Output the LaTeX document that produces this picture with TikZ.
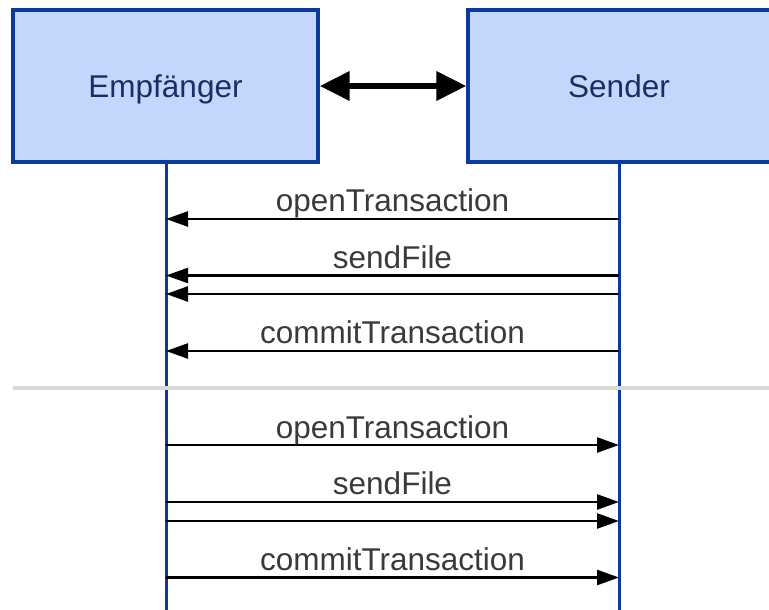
\documentclass[tikz,border=0pt]{standalone}
\usepackage{fontspec}
\setmainfont{Liberation Sans}
\usetikzlibrary{arrows.meta}
\definecolor{boxfill}{HTML}{C5D6FC}
\definecolor{boxline}{HTML}{0B3A9E}
\definecolor{boxtext}{HTML}{1A2E66}
\definecolor{labtext}{HTML}{3A3A3A}
\definecolor{sepgray}{HTML}{D9D9D9}
\begin{document}
\begin{tikzpicture}[x=1pt,y=-1pt,
  actor/.style={draw=boxline,line width=3.2pt,fill=boxfill,minimum height=152pt,inner sep=0pt},
  actortext/.style={anchor=base,text=boxtext,font=\fontsize{31.5}{36}\selectfont,inner sep=0pt},
  life/.style={draw=boxline,line width=3pt},
  msg/.style={draw=black,line width=2.5pt,-{Triangle[length=22pt,width=15pt]}},
  lab/.style={anchor=base,text=labtext,font=\fontsize{31.5}{36}\selectfont,inner sep=0pt}]
\useasboundingbox (0,0) rectangle (769,610);
\clip (0,0) rectangle (769,610);
\node[actor,minimum width=305pt] (Ebox) at (165.5,86) {};
\node[actor,minimum width=336pt] (Sbox) at (636,86) {};
\node[actortext] (E) at (165.5,97) {Empfänger};
\node[actortext] (S) at (619,97) {Sender};
\draw[line width=6.5pt,{Triangle[length=30pt,width=28pt]}-{Triangle[length=30pt,width=28pt]}] (Ebox.east) -- (Sbox.west);
\coordinate (Eb) at (166,612);
\coordinate (Sb) at (619,612);
\draw[life] (Ebox.south -| Eb) -- (Eb);
\draw[life] (Sbox.south -| Sb) -- (Sb);
\coordinate (sep1) at (13,388);
\coordinate (sep2) at (775,388);
\draw[sepgray,line width=4.5pt] (sep1) -- (sep2);
\foreach \y/\n in {219/a1,275.5/a2,294/a3,351/a4,445/b1,502/b2,521/b3,577.5/b4}{
  \coordinate (L\n) at (166,\y);
  \coordinate (R\n) at (619,\y);
}
\draw[msg] (Ra1) -- (La1);
\draw[msg] (Ra2) -- (La2);
\draw[msg] (Ra3) -- (La3);
\draw[msg] (Ra4) -- (La4);
\draw[msg] (Lb1) -- (Rb1);
\draw[msg] (Lb2) -- (Rb2);
\draw[msg] (Lb3) -- (Rb3);
\draw[msg] (Lb4) -- (Rb4);
\node[lab] (t1) at (392.5,211.5) {openTransaction};
\node[lab] (t2) at (392.5,268) {sendFile};
\node[lab] (t3) at (392.5,343) {commitTransaction};
\node[lab] (t4) at (392.5,438) {openTransaction};
\node[lab] (t5) at (392.5,494) {sendFile};
\node[lab] (t6) at (392.5,570) {commitTransaction};
\end{tikzpicture}
\end{document}
